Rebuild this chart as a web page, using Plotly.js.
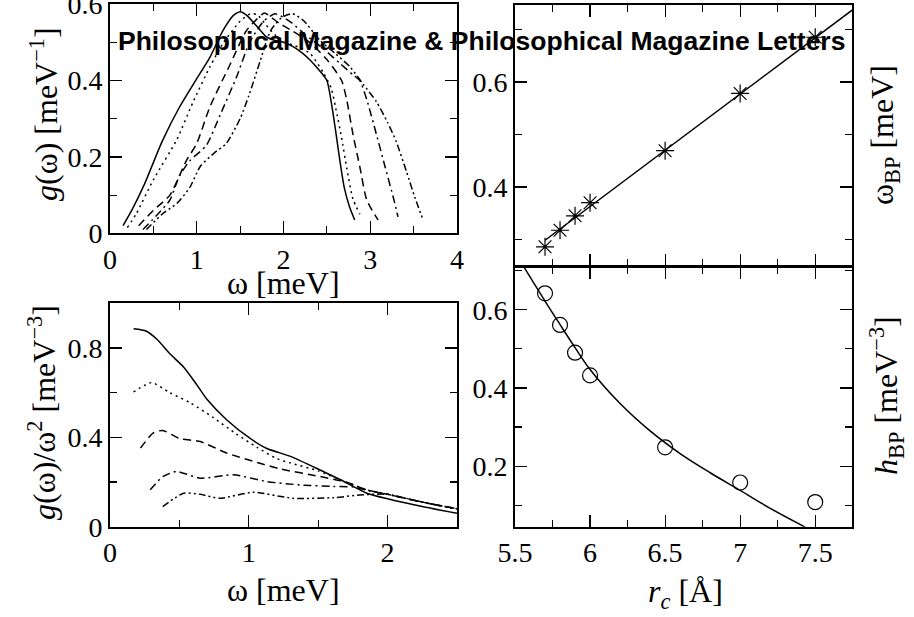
<!DOCTYPE html>
<html>
<head>
<meta charset="utf-8">
<script src="https://cdn.plot.ly/plotly-3.0.1.min.js"></script>
<style>html,body{margin:0;padding:0;background:#fff;}#chart{width:914px;height:617px;}</style>
</head>
<body>
<div id="chart"></div>
<script>
// ---- Top-left: g(omega) for five cutoffs ----
var w1 = [0.15,0.25,0.4,0.6,0.8,1.0,1.15,1.3,1.42,1.5,1.58,1.7,1.8,1.9,2.0,2.1,2.2,2.3,2.4,2.5,2.56,2.6,2.65,2.7,2.76,2.82];
var g1 = [0.02,0.06,0.13,0.24,0.33,0.405,0.46,0.53,0.57,0.58,0.57,0.54,0.515,0.505,0.50,0.49,0.475,0.455,0.43,0.40,0.33,0.27,0.19,0.12,0.07,0.035];
var w2 = [0.2,0.3,0.5,0.77,0.96,1.15,1.31,1.5,1.62,1.7,1.8,1.9,2.07,2.2,2.31,2.46,2.55,2.6,2.67,2.73,2.8,2.88];
var g2 = [0.015,0.05,0.14,0.245,0.345,0.435,0.50,0.555,0.575,0.572,0.545,0.52,0.496,0.485,0.47,0.42,0.38,0.33,0.25,0.17,0.09,0.05];
var w3 = [0.33,0.5,0.69,0.88,1.0,1.15,1.38,1.57,1.69,1.78,1.86,1.95,2.1,2.3,2.5,2.67,2.73,2.8,2.88,2.96,3.09];
var g3 = [0.02,0.06,0.10,0.19,0.235,0.33,0.44,0.53,0.56,0.577,0.565,0.55,0.53,0.50,0.455,0.40,0.348,0.26,0.174,0.087,0.035];
var w4 = [0.38,0.55,0.69,0.8,0.92,1.11,1.27,1.46,1.61,1.77,1.9,2.0,2.1,2.25,2.45,2.65,2.8,2.88,2.96,3.07,3.17,3.27,3.32];
var g4 = [0.01,0.05,0.087,0.15,0.19,0.23,0.31,0.41,0.50,0.555,0.575,0.565,0.55,0.52,0.485,0.445,0.415,0.40,0.35,0.26,0.175,0.09,0.043];
var w5 = [0.42,0.6,0.77,0.92,1.04,1.2,1.34,1.5,1.6,1.73,1.85,1.98,2.1,2.23,2.42,2.6,2.77,2.92,3.07,3.2,3.3,3.42,3.52,3.61];
var g5 = [0.01,0.05,0.078,0.12,0.175,0.21,0.235,0.3,0.36,0.45,0.53,0.565,0.575,0.557,0.505,0.47,0.435,0.39,0.345,0.29,0.24,0.16,0.09,0.035];

// ---- Bottom-left: g(omega)/omega^2 ----
var u1 = [0.17,0.26,0.34,0.43,0.53,0.62,0.70,0.84,1.01,1.13,1.3,1.51,1.66,1.85,2.0,2.25,2.5];
var h1 = [0.886,0.876,0.838,0.775,0.715,0.64,0.569,0.479,0.395,0.35,0.315,0.255,0.21,0.15,0.125,0.09,0.06];
var u2 = [0.17,0.3,0.43,0.58,0.74,0.91,1.06,1.2,1.3,1.5,1.66,1.85,2.0,2.25,2.5];
var h2 = [0.603,0.645,0.6,0.554,0.49,0.415,0.355,0.305,0.285,0.25,0.21,0.165,0.145,0.11,0.08];
var u3 = [0.22,0.31,0.38,0.5,0.65,0.84,1.08,1.23,1.51,1.70,1.85,2.0,2.25,2.5];
var h3 = [0.352,0.419,0.431,0.395,0.381,0.33,0.284,0.258,0.225,0.2,0.165,0.145,0.11,0.08];
var u4 = [0.29,0.38,0.48,0.65,0.89,1.13,1.37,1.61,1.75,1.87,2.0,2.25,2.5];
var h4 = [0.165,0.224,0.247,0.217,0.232,0.202,0.187,0.18,0.178,0.16,0.145,0.11,0.08];
var u5 = [0.38,0.53,0.65,0.79,1.03,1.32,1.61,1.8,2.0,2.25,2.5];
var h5 = [0.09,0.15,0.145,0.127,0.154,0.127,0.13,0.142,0.145,0.11,0.08];

// ---- Right panels: boson peak position and height vs cutoff ----
var rc = [5.7,5.8,5.9,6.0,6.5,7.0,7.5];
var wBP = [0.286,0.3175,0.345,0.370,0.469,0.578,0.685];
var hBP = [0.642,0.561,0.49,0.432,0.248,0.158,0.108];
var wFitR = [5.7,7.8];
var wFitV = [0.2985,0.7483];
var hFitR = [5.555,5.7,5.8,5.9,6.0,6.2,6.4,6.6,6.8,7.0,7.2,7.433];
var hFitV = [0.712,0.622,0.562,0.503,0.447,0.36,0.29,0.232,0.183,0.138,0.092,0.044];

var dashes = ['solid','2px,4px','8px,5px','8px,4px,2px,4px','7px,3px,2px,3px,2px,3px'];
var W = 914, H = 617;
function fx(p){return p/W;}
function fy(p){return 1-p/H;}

function curve(x,y,i,xa,ya){
  return {x:x,y:y,mode:'lines',type:'scatter',xaxis:xa,yaxis:ya,
    line:{color:'black',width:1.5,dash:dashes[i],shape:'spline',smoothing:0.6},hoverinfo:'skip'};
}
var traces = [
  curve(w1,g1,0,'x','y'),curve(w2,g2,1,'x','y'),curve(w3,g3,2,'x','y'),curve(w4,g4,3,'x','y'),curve(w5,g5,4,'x','y'),
  curve(u1,h1,0,'x3','y3'),curve(u2,h2,1,'x3','y3'),curve(u3,h3,2,'x3','y3'),curve(u4,h4,3,'x3','y3'),curve(u5,h5,4,'x3','y3'),
  {x:wFitR,y:wFitV,mode:'lines',xaxis:'x2',yaxis:'y2',line:{color:'black',width:1.5}},
  {x:rc,y:wBP,mode:'markers',xaxis:'x2',yaxis:'y2',marker:{symbol:'asterisk-open',size:15,color:'black',line:{color:'black',width:1.2}}},
  {x:hFitR,y:hFitV,mode:'lines',xaxis:'x4',yaxis:'y4',line:{color:'black',width:1.5,shape:'spline',smoothing:1}},
  {x:rc,y:hBP,mode:'markers',xaxis:'x4',yaxis:'y4',marker:{symbol:'circle-open',size:15,color:'black',line:{color:'black',width:1.2}}}
];

var serif = 'Liberation Serif, Times New Roman, serif';
var tickFont = {family:serif,size:28,color:'black'};
function ax(domain,range,dtick,tick0,minor,anchor,showlabels){
  return {domain:domain,range:range,dtick:dtick,tick0:tick0,anchor:anchor,showgrid:false,zeroline:false,
    showline:true,linecolor:'black',linewidth:2,mirror:'ticks',ticks:'inside',ticklen:12,tickwidth:1.2,tickcolor:'black',
    minor:{dtick:minor,tick0:tick0,ticks:'inside',ticklen:7,tickwidth:1.2,tickcolor:'black',showgrid:false},
    ticklabeloverflow:'allow',
    showticklabels:showlabels,tickfont:tickFont,fixedrange:true};
}
var xL=[fx(110),fx(457)], xR=[fx(515),fx(852)];
var layout = {
  width:W,height:H,margin:{l:0,r:0,t:0,b:0},paper_bgcolor:'white',plot_bgcolor:'white',showlegend:false,
  font:{family:serif,size:28,color:'black'},
  xaxis: ax(xL,[0,4.0001],1,0,0.5,'y',true),
  yaxis: ax([fy(233.3),fy(4)],[0,0.6003],0.2,0,0.1,'x',true),
  xaxis2: ax(xR,[5.5,7.745],0.5,5.5,0.25,'y2',false),
  yaxis2: ax([fy(265.7),fy(4.7)],[0.25,0.747],0.2,0,0.1,'x2',true),
  xaxis3: ax(xL,[0,2.5],1,0,0.5,'y3',true),
  yaxis3: ax([fy(526.7),fy(303.3)],[0,1],0.4,0,0.2,'x3',true),
  xaxis4: ax(xR,[5.5,7.745],0.5,5.5,0.25,'y4',true),
  yaxis4: ax([fy(526.7),fy(266.7)],[0.045,0.71],0.2,0,0.1,'x4',true),
  annotations:[]
};

var tf = {family:serif,size:32,color:'black'};
function ann(text,px,py,angle){
  return {text:text,xref:'paper',yref:'paper',x:fx(px),y:fy(py),xanchor:'center',yanchor:'middle',
    showarrow:false,textangle:angle||0,font:tf};
}
layout.annotations.push(ann('ω [meV]',283,283));
layout.annotations.push(ann('ω [meV]',283,590));
layout.annotations.push(ann('<i>r</i><sub><i>c</i></sub> [Å]',685,593));
layout.annotations.push(ann('<i>g</i>(ω) [meV<sup>−1</sup>]',44,114,-90));
layout.annotations.push(ann('<i>g</i>(ω)/ω<sup>2</sup> [meV<sup>−3</sup>]',42,413,-90));
layout.annotations.push(ann('ω<sub>BP</sub> [meV]',884,135,-90));
layout.annotations.push(ann('<i>h</i><sub>BP</sub> [meV<sup>−3</sup>]',886,396,-90));
layout.annotations.push({text:'<b>Philosophical Magazine & Philosophical Magazine Letters</b>',xref:'paper',yref:'paper',
  x:fx(481),y:fy(41),xanchor:'center',yanchor:'middle',showarrow:false,
  font:{family:'Liberation Sans, Arial, Helvetica, sans-serif',size:26.5,color:'black'}});

Plotly.newPlot('chart',traces,layout,{displayModeBar:false,staticPlot:true});
</script>
</body>
</html>
